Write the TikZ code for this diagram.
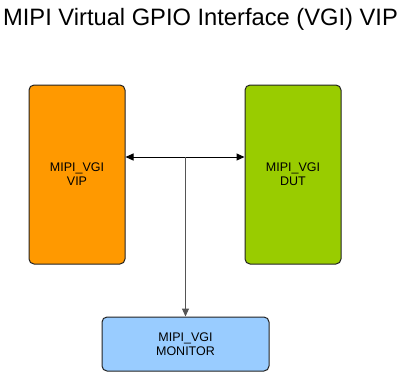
\documentclass[tikz,border=0pt]{standalone}
\usepackage{fontspec}
\setmainfont{Liberation Sans}
\usepackage{tikz}
\usetikzlibrary{arrows.meta,positioning}
\definecolor{vipor}{HTML}{FF9900}
\definecolor{dutgr}{HTML}{99CC00}
\definecolor{monbl}{HTML}{99CCFF}
\definecolor{edgedk}{HTML}{222222}
\definecolor{wiregr}{HTML}{555555}
\tikzset{
  blockbox/.style={draw=edgedk,line width=1pt,rounded corners=5pt,align=center,
    font=\fontsize{12.5}{14}\selectfont,inner sep=0pt},
  tallbox/.style={blockbox,minimum width=96pt,minimum height=179pt},
  widebox/.style={blockbox,minimum width=167pt,minimum height=54pt},
  tip/.style={-{Triangle[length=8pt,width=7pt]}}
}
\begin{document}
\begin{tikzpicture}[x=1pt,y=-1pt]
  \useasboundingbox (0,0) rectangle (401,373);
  % Title
  \node[anchor=base,font=\fontsize{23.7}{28}\selectfont] (title) at (200.5,25) {MIPI Virtual GPIO Interface (VGI) VIP};
  % Blocks
  \node[tallbox,fill=vipor] (vip) at (77,174.5) {MIPI\_VGI\\VIP};
  \node[tallbox,fill=dutgr] (dut) at (293,174.5) {MIPI\_VGI\\DUT};
  \node[widebox,fill=monbl] (mon) at (185.5,344) {MIPI\_VGI\\MONITOR};
  % Bus between VIP and DUT
  \coordinate (bus) at (185.5,157);
  \draw[line width=1pt,{Triangle[length=8pt,width=7pt]}-{Triangle[length=8pt,width=7pt]}] (vip.east |- bus) -- (dut.west |- bus);
  % Tap to monitor
  \draw[tip,wiregr,line width=1pt] (bus) -- (mon.north);
\end{tikzpicture}
\end{document}
